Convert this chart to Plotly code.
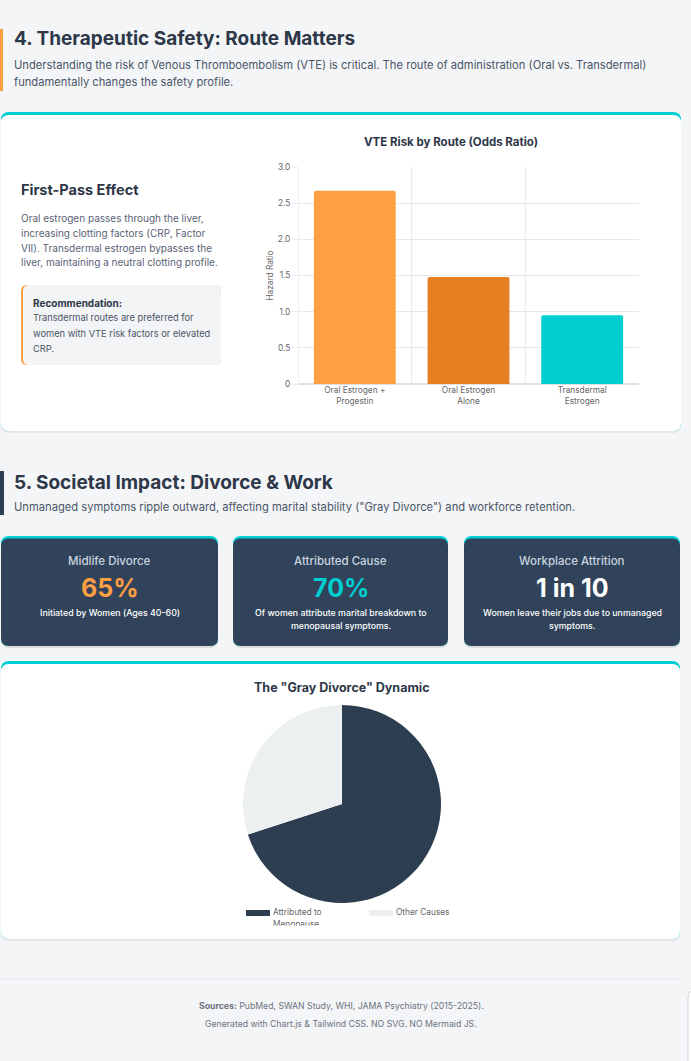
import plotly.graph_objects as go

# ---- data ----
routes = ['Oral Estrogen +<br>Progestin', 'Oral Estrogen<br>Alone', 'Transdermal<br>Estrogen']
hazard_ratio = [2.67, 1.48, 0.95]
bar_colors = ['#FF9F43', '#E67E22', '#00CED1']
y_ticks = [0, 0.5, 1.0, 1.5, 2.0, 2.5, 3.0]
y_tick_text = ['0', '0.5', '1.0', '1.5', '2.0', '2.5', '3.0']

pie_labels = ['Attributed to Menopause', 'Other Causes']
pie_values = [70, 30]
pie_colors = ['#2C3E50', '#ECF0F1']

stat_titles = ['Midlife Divorce', 'Attributed Cause', 'Workplace Attrition']
stat_values = ['65%', '70%', '1 in 10']
stat_colors = ['#FF9F43', '#00CED1', '#FFFFFF']
stat_notes = [['Initiated by Women (Ages 40-60)'],
              ['Of women attribute marital breakdown to', 'menopausal symptoms.'],
              ['Women leave their jobs due to unmanaged', 'symptoms.']]

W, H = 691, 1061
FONT = 'Inter'
DARK = '#2D3748'


def fx(x):
    return x / W


def fy(y):
    return 1 - y / H


def rrect(x0, y0, x1, y1, r, color, line=None):
    X0, X1, Y0, Y1 = fx(x0), fx(x1), fy(y0), fy(y1)
    rx, ry = r / W, r / H
    path = (f"M {X0+rx},{Y0} L {X1-rx},{Y0} Q {X1},{Y0} {X1},{Y0-ry} "
            f"L {X1},{Y1+ry} Q {X1},{Y1} {X1-rx},{Y1} L {X0+rx},{Y1} "
            f"Q {X0},{Y1} {X0},{Y1+ry} L {X0},{Y0-ry} Q {X0},{Y0} {X0+rx},{Y0} Z")
    fig.add_shape(type='path', path=path, xref='paper', yref='paper',
                  fillcolor=color, line=dict(width=0) if line is None else line,
                  layer='below')


def box(x0, y0, x1, y1, color):
    fig.add_shape(type='rect', xref='paper', yref='paper',
                  x0=fx(x0), x1=fx(x1), y0=fy(y0), y1=fy(y1),
                  fillcolor=color, line=dict(width=0), layer='below')


def txt(x, y, s, size, color, bold=False, xanchor='left', weight=None):
    fig.add_annotation(x=fx(x), y=fy(y), xref='paper', yref='paper', text=s,
                       showarrow=False, xanchor=xanchor, yanchor='middle',
                       font=dict(family=FONT, size=size, color=color,
                                 weight=weight or (700 if bold else 400)))


fig = go.Figure()

# bar chart
fig.add_trace(go.Bar(
    x=list(range(len(routes))), y=hazard_ratio,
    marker=dict(color=bar_colors, line=dict(width=0), cornerradius=2),
    width=0.72, showlegend=False, hoverinfo='y'
))

# pie chart
fig.add_trace(go.Pie(
    labels=pie_labels, values=pie_values,
    marker=dict(colors=pie_colors, line=dict(width=0)),
    sort=False, direction='clockwise', rotation=0,
    textinfo='none', showlegend=False,
    domain=dict(x=[fx(342 - 99), fx(342 + 99)], y=[fy(804 + 99), fy(804 - 99)])
))

# pie legend labels (the canvas cuts the wrapped second line)
fig.add_trace(go.Scatter(
    x=[273, 273, 396], y=[913, 924.5, 913],
    text=['Attributed to', 'Menopause', pie_labels[1]],
    mode='text', textposition='middle right', cliponaxis=True,
    textfont=dict(family=FONT, size=8.3, color='#666666'),
    xaxis='x2', yaxis='y2', showlegend=False, hoverinfo='skip'
))

# ---- section 4 ----
box(0, 29, 3, 91, '#FF9F43')
txt(12, 39, '4. Therapeutic Safety: Route Matters', 19, DARK, bold=True)
txt(12, 65, 'Understanding the risk of Venous Thromboembolism (VTE) is critical. The route of administration (Oral vs. Transdermal)', 11.2, '#4A5568')
txt(12, 82, 'fundamentally changes the safety profile.', 11.2, '#4A5568')

rrect(1, 114, 681, 433, 8, 'rgba(0,0,0,0.06)')
rrect(1, 112, 681, 431, 8, '#00CED1')
rrect(1, 115, 681, 431, 8, '#FFFFFF')

# vertical grid lines between categories
for gx in [0.5, 1.5]:
    fig.add_shape(type='line', xref='x', yref='y', x0=gx, x1=gx, y0=-0.07, y1=3,
                  line=dict(color='#E8E8E8', width=1), layer='below')
fig.add_shape(type='line', xref='x', yref='y', x0=-0.5, x1=-0.5, y0=-0.07, y1=3,
              line=dict(color='#E0E0E0', width=1), layer='below')

txt(19, 190, 'First-Pass Effect', 14.5, DARK, bold=True)
para = ['Oral estrogen passes through the liver,',
        'increasing clotting factors (CRP, Factor',
        'VII). Transdermal estrogen bypasses the',
        'liver, maintaining a neutral clotting profile.']
for k, line in enumerate(para):
    txt(19, 218 + k * 14.8, line, 10, '#596275')

rrect(21, 285, 221, 365, 6, '#FF9F43')
rrect(23, 285, 221, 365, 6, '#F3F4F6')
txt(31, 303, 'Recommendation:', 10, DARK, bold=True)
rec = ['Transdermal routes are preferred for',
       'women with VTE risk factors or elevated',
       'CRP.']
for k, line in enumerate(rec):
    txt(31, 318 + k * 15, line, 9.3, '#4A5568')

txt(451, 142, 'VTE Risk by Route (Odds Ratio)', 11.5, DARK, bold=True, xanchor='center')

# ---- section 5 ----
box(0, 471, 4, 515, '#2C3E50')
txt(12, 482, '5. Societal Impact: Divorce & Work', 19, DARK, bold=True)
txt(12, 507, 'Unmanaged symptoms ripple outward, affecting marital stability ("Gray Divorce") and workforce retention.', 11.2, '#4A5568')

card_x = [(1, 218), (233, 448), (464, 680)]
for (x0, x1), title, val, col, notes in zip(card_x, stat_titles, stat_values, stat_colors, stat_notes):
    rrect(x0, 538, x1, 648, 8, 'rgba(0,0,0,0.10)')
    rrect(x0, 536, x1, 646, 8, '#00CED1')
    rrect(x0, 538.5, x1, 646, 8, '#30435A')
    cx = (x0 + x1) / 2
    txt(cx, 561, title, 11.5, '#CBD5E0', xanchor='center', weight=500)
    txt(cx, 588, val, 25, col, bold=True, xanchor='center')
    for k, line in enumerate(notes):
        txt(cx, 612 + k * 13, line, 8.8, '#FFFFFF', xanchor='center', weight=500)

rrect(1, 663, 680, 941, 8, 'rgba(0,0,0,0.06)')
rrect(1, 661, 680, 939, 8, '#00CED1')
rrect(1, 664, 680, 939, 8, '#FFFFFF')
txt(342, 687, 'The "Gray Divorce" Dynamic', 12.5, DARK, bold=True, xanchor='center')

# pie legend swatches (after the card so they sit on top of it)
box(246, 910, 270, 916, pie_colors[0])
box(369, 910, 393, 916, pie_colors[1])

# footer
fig.add_shape(type='line', xref='paper', yref='paper', x0=0, x1=fx(680), y0=fy(979), y1=fy(979),
              line=dict(color='#E2E5E9', width=1), layer='below')
txt(341, 1006, '<b>Sources:</b> PubMed, SWAN Study, WHI, JAMA Psychiatry (2015-2025).', 8.7, '#6B7280', xanchor='center')
txt(341, 1024, 'Generated with Chart.js & Tailwind CSS. NO SVG. NO Mermaid JS.', 8.7, '#6B7280', xanchor='center')
rrect(688, 990, 700, 1070, 8, '#FFFFFF', line=dict(color='#D1D5DB', width=1))

fig.update_layout(
    width=W, height=H,
    margin=dict(l=0, r=0, t=0, b=0, autoexpand=False),
    paper_bgcolor='#F4F5F7',
    plot_bgcolor='rgba(0,0,0,0)',
    font=dict(family=FONT),
    xaxis=dict(
        domain=[fx(298), fx(639)], range=[-0.5, 2.5], automargin=False,
        tickvals=list(range(len(routes))), ticktext=routes,
        tickfont=dict(size=8.3, color='#666666'),
        showgrid=False, zeroline=False, showline=False, fixedrange=True
    ),
    yaxis=dict(
        domain=[fy(384), fy(167)], range=[0, 3], automargin=False,
        tickvals=y_ticks, ticktext=y_tick_text,
        tickfont=dict(size=8.3, color='#666666'),
        ticks='outside', ticklen=5, tickcolor='#E8E8E8',
        gridcolor='#E8E8E8', zeroline=True, zerolinecolor='#E0E0E0',
        showline=False,
        title=dict(text='Hazard Ratio', font=dict(size=8.3, color='#666666'), standoff=2)
    ),
    xaxis2=dict(domain=[fx(240), fx(470)], range=[240, 470], visible=False,
                anchor='y2', automargin=False),
    yaxis2=dict(domain=[fy(925.5), fy(900)], range=[925.5, 900], visible=False,
                anchor='x2', automargin=False),
)

fig.write_html('out.html', config={'displayModeBar': False},
               post_script="document.body.style.margin='0';document.body.style.overflow='hidden';")
